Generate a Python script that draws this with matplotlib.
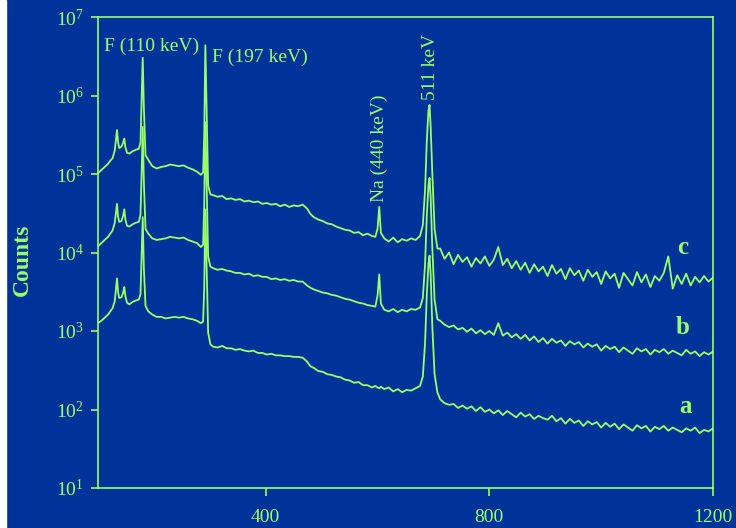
import numpy as np
import matplotlib
matplotlib.use('agg')
import matplotlib.pyplot as plt
from matplotlib.patches import Rectangle

plt.rcParams['font.family'] = ['Liberation Serif', 'DejaVu Serif']
plt.rcParams['mathtext.fontset'] = 'stix'
plt.rcParams['mathtext.default'] = 'regular'

bg = '#003399'
fg = '#99ff66'

# channel numbers shared by the three spectra
channel = [100, 106, 112, 118, 122, 126, 130, 132, 134, 136, 138, 142, 145, 147, 149, 152, 156, 162, 168, 173,
           176, 178, 180, 182, 185, 190,
           197, 205, 213, 221, 229, 237, 245, 253, 261, 269, 277, 284, 288,
           290, 292, 294, 297, 301,
           306, 314, 322, 330, 338, 346, 354, 362, 370, 378, 386, 394, 402, 410, 418, 426, 434, 442, 450, 458,
           466, 474, 480, 486, 494, 502, 510, 518, 526, 534, 542, 550, 558, 566, 574, 582, 590, 596,
           600, 603, 606,
           612, 620, 628, 636, 644, 652, 660, 668, 676,
           681, 685, 688, 691, 693, 695, 698, 702, 707,
           712, 720, 728, 736, 744, 752, 760, 768, 776, 784, 792, 800, 808, 816, 824, 832, 840, 848, 856, 864,
           872, 880, 888, 896, 904, 912, 920, 928, 936, 944, 952, 960, 968, 976, 984, 992, 1000, 1008, 1016, 1024,
           1032, 1040, 1048, 1056, 1064, 1072, 1080, 1088, 1096, 1104, 1112, 1120, 1128, 1136, 1144, 1152, 1160,
           1168, 1176, 1184, 1192, 1200]

# log10(counts)
log_a = [3.10, 3.13, 3.17, 3.21, 3.25, 3.29, 3.38, 3.52, 3.67, 3.49, 3.42, 3.43, 3.49, 3.56, 3.44, 3.36, 3.34, 3.37, 3.39, 3.40,
         3.47, 3.95, 4.45, 3.80, 3.32, 3.25,
         3.21, 3.18, 3.18, 3.16, 3.17, 3.18, 3.17, 3.18, 3.16, 3.15, 3.13, 3.10, 3.12,
         3.55, 4.55, 3.90, 2.98, 2.83,
         2.80, 2.79, 2.81, 2.78, 2.78, 2.76, 2.77, 2.75, 2.74, 2.75, 2.72, 2.72, 2.70, 2.71, 2.69, 2.69, 2.68, 2.68, 2.67, 2.67,
         2.66, 2.61, 2.55, 2.53, 2.49, 2.48, 2.45, 2.44, 2.42, 2.41, 2.38, 2.37, 2.34, 2.35, 2.31, 2.31, 2.28, 2.30,
         2.28, 2.27, 2.29,
         2.26, 2.28, 2.23, 2.26, 2.22, 2.25, 2.24, 2.27, 2.30,
         2.42, 2.85, 3.45, 3.85, 3.96, 3.72, 3.05, 2.45, 2.22,
         2.13, 2.08, 2.06, 2.07, 2.02, 2.05, 2.01, 2.04, 1.98, 2.03, 1.97, 2.00, 1.95, 1.99, 1.93, 1.98, 1.94, 1.90, 1.96, 1.91,
         1.94, 1.88, 1.92, 1.89, 1.87, 1.92, 1.85, 1.89, 1.82, 1.88, 1.83, 1.86, 1.79, 1.85, 1.81, 1.84, 1.77, 1.83, 1.78, 1.82,
         1.75, 1.81, 1.77, 1.73, 1.80, 1.76, 1.79, 1.72, 1.78, 1.75, 1.79, 1.73, 1.77, 1.74, 1.71, 1.76, 1.73,
         1.77, 1.70, 1.74, 1.72, 1.76]

log_b = [4.08, 4.12, 4.16, 4.20, 4.24, 4.28, 4.38, 4.50, 4.62, 4.45, 4.39, 4.40, 4.47, 4.55, 4.42, 4.34, 4.33, 4.36, 4.38, 4.39,
         4.48, 5.00, 5.60, 4.90, 4.30, 4.24,
         4.18, 4.16, 4.17, 4.18, 4.20, 4.19, 4.18, 4.19, 4.16, 4.14, 4.12, 4.07, 4.10,
         4.60, 5.66, 4.95, 3.95, 3.82,
         3.80, 3.78, 3.79, 3.77, 3.76, 3.74, 3.74, 3.72, 3.73, 3.70, 3.71, 3.69, 3.69, 3.66, 3.67, 3.65, 3.66, 3.64, 3.65, 3.63,
         3.63, 3.58, 3.55, 3.53, 3.51, 3.49, 3.48, 3.46, 3.45, 3.43, 3.41, 3.40, 3.38, 3.36, 3.35, 3.33, 3.32, 3.31,
         3.45, 3.72, 3.35,
         3.27, 3.25, 3.28, 3.24, 3.27, 3.25, 3.28, 3.27, 3.30,
         3.42, 3.85, 4.45, 4.85, 4.95, 4.70, 4.05, 3.40, 3.15,
         3.13, 3.08, 3.05, 3.07, 3.02, 3.04, 2.99, 3.03, 2.97, 3.01, 2.96, 3.00, 2.95, 3.10, 2.94, 2.98, 2.92, 2.96, 2.90, 2.95,
         2.88, 2.93, 2.86, 2.91, 2.84, 2.90, 2.85, 2.88, 2.81, 2.87, 2.83, 2.86, 2.79, 2.84, 2.80, 2.83, 2.75, 2.81, 2.77, 2.80,
         2.73, 2.79, 2.75, 2.71, 2.78, 2.74, 2.77, 2.70, 2.76, 2.73, 2.77, 2.71, 2.75, 2.72, 2.69, 2.76, 2.71,
         2.74, 2.68, 2.73, 2.70, 2.74]

log_c = [5.01, 5.05, 5.09, 5.13, 5.17, 5.20, 5.30, 5.43, 5.56, 5.40, 5.33, 5.35, 5.40, 5.45, 5.34, 5.27, 5.26, 5.29, 5.31, 5.32,
         5.40, 5.95, 6.48, 5.85, 5.24, 5.18,
         5.10, 5.07, 5.09, 5.10, 5.12, 5.11, 5.10, 5.11, 5.08, 5.06, 5.03, 4.99, 5.02,
         5.50, 6.64, 5.90, 4.85, 4.74,
         4.73, 4.71, 4.72, 4.68, 4.69, 4.67, 4.68, 4.65, 4.66, 4.64, 4.65, 4.62, 4.63, 4.61, 4.62, 4.59, 4.61, 4.58, 4.60, 4.59,
         4.61, 4.56, 4.49, 4.45, 4.42, 4.40, 4.37, 4.36, 4.33, 4.31, 4.29, 4.28, 4.25, 4.26, 4.22, 4.24, 4.21, 4.20,
         4.30, 4.58, 4.25,
         4.18, 4.14, 4.19, 4.13, 4.17, 4.15, 4.18, 4.16, 4.21,
         4.35, 4.80, 5.40, 5.80, 5.88, 5.60, 5.00, 4.30, 4.05,
         4.05, 3.92, 4.00, 3.85, 3.97, 3.88, 3.94, 3.82, 3.93, 3.86, 3.95, 3.83, 3.91, 4.07, 3.84, 3.92, 3.80, 3.89, 3.78, 3.87,
         3.74, 3.85, 3.76, 3.82, 3.70, 3.84, 3.73, 3.79, 3.66, 3.80, 3.71, 3.77, 3.64, 3.78, 3.69, 3.75, 3.60, 3.76, 3.67, 3.73,
         3.55, 3.74, 3.66, 3.58, 3.75, 3.62, 3.72, 3.56, 3.70, 3.64, 3.74, 3.95, 3.54, 3.71, 3.60, 3.73, 3.58,
         3.69, 3.62, 3.70, 3.63, 3.68]

fig = plt.figure(figsize=(7.36, 5.28), dpi=100)
fig.patch.set_facecolor(bg)
fig.patches.append(Rectangle((0, 0), 6 / 736, 1, transform=fig.transFigure, color='white', zorder=-1))
ax = fig.add_axes([98 / 736, 1 - 488 / 528, 615 / 736, 471 / 528])
ax.set_facecolor(bg)

for ly in (log_a, log_b, log_c):
    ax.plot(channel, 10 ** np.array(ly), color=fg, lw=1.3)

ax.set_yscale('log')
ax.set_xlim(100, 1200)
ax.set_ylim(10, 1e7)
ax.set_xticks([400, 800, 1200])
ax.yaxis.set_minor_locator(matplotlib.ticker.NullLocator())
for s in ax.spines.values():
    s.set_color(fg)
    s.set_linewidth(1.2)
ax.tick_params(axis='both', colors=fg, labelsize=14, width=1.2)
ax.tick_params(axis='y', length=5, pad=5)
ax.tick_params(axis='x', length=6, pad=9)

txt = dict(color=fg, fontsize=14)
ax.text(281, 10 ** 6.62, 'F (110 keV)', ha='right', va='center', **txt)
ax.text(304, 10 ** 6.48, 'F (197 keV)', ha='left', va='center', **txt)
ax.text(604, 10 ** 4.64, 'Na (440 keV)', ha='center', va='bottom', rotation=90, **txt)
ax.text(694, 10 ** 5.94, '511 keV', ha='center', va='bottom', rotation=90, **txt)

lab = dict(color=fg, fontsize=18, fontweight='bold', ha='center', va='center')
ax.text(1145, 10 ** 4.06, 'c', **lab)
ax.text(1146, 10 ** 3.05, 'b', **lab)
ax.text(1150, 10 ** 2.04, 'a', **lab)

fig.text(22 / 736, 1 - 260 / 528, 'Counts', rotation=90, ha='center', va='center',
         color=fg, fontsize=17, fontweight='bold')

plt.savefig('out.png', dpi=100, facecolor=bg)
